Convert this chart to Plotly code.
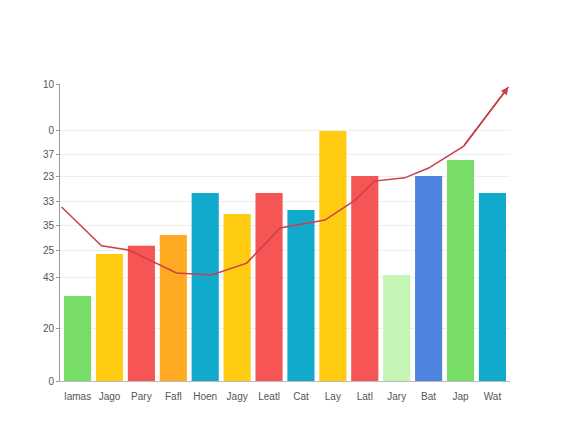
import plotly.graph_objects as go

categories = ["Iamas", "Jago", "Pary", "Fafl", "Hoen", "Jagy", "Leatl", "Cat",
              "Lay", "Latl", "Jary", "Bat", "Jap", "Wat"]
bar_values = [28.6, 42.8, 45.5, 49.2, 63.3, 56.2, 63.3, 57.6, 84.2, 69.0, 35.7, 69.0, 74.4, 63.3]
bar_colors = ["#77dd66", "#ffcc11", "#f55555", "#ffaa22", "#11aacc", "#ffcc11", "#f55555",
              "#11aacc", "#ffcc11", "#f55555", "#c5f5b5", "#4f85e0", "#77dd66", "#11aacc"]
line_x = [-0.5, 0.75, 1.6, 3.1, 4.2, 5.3, 6.35, 7.75, 8.7, 9.3, 10.25, 11.0, 12.1, 13.5]
line_y = [58.6, 45.5, 44.1, 36.4, 35.7, 39.7, 51.5, 54.2, 60.9, 67.3, 68.4, 71.7, 79.1, 99.0]
tick_vals = [0, 17.8, 35.0, 43.8, 52.2, 60.6, 68.7, 76.4, 84.5, 100]
tick_text = ["0", "20", "43", "25", "35", "33", "23", "37", "0", "10"]

fig = go.Figure()
fig.add_trace(go.Bar(x=list(range(len(categories))), y=bar_values,
                     marker=dict(color=bar_colors, line=dict(width=0)), width=0.85))
fig.add_trace(go.Scatter(x=line_x, y=line_y, mode="lines",
                         line=dict(color="#c8404a", width=1.5)))
fig.add_annotation(x=line_x[-1], y=line_y[-1], ax=line_x[-2], ay=line_y[-2],
                   xref="x", yref="y", axref="x", ayref="y", text="",
                   showarrow=True, arrowhead=2, arrowsize=1, arrowwidth=1.5,
                   arrowcolor="#c8404a")

fig.update_layout(
    width=576, height=448, showlegend=False, bargap=0.15,
    plot_bgcolor="white", paper_bgcolor="white",
    margin=dict(l=52, r=74, t=76, b=75),
    font=dict(family="Liberation Sans", size=10, color="#555555"),
)
fig.update_xaxes(range=[-0.55, 13.55], tickvals=list(range(len(categories))),
                 ticktext=categories, showgrid=False, showline=True,
                 linecolor="#bbbbbb", ticks="outside", ticklen=6,
                 tickcolor="rgba(0,0,0,0)", zeroline=False)
fig.update_yaxes(range=[0, 100], tickvals=tick_vals, ticktext=tick_text,
                 showgrid=True, gridcolor="#eeeeee", showline=True,
                 linecolor="#999999", ticks="outside", ticklen=3,
                 tickcolor="#999999", zeroline=False)

fig.write_html("out.html")
